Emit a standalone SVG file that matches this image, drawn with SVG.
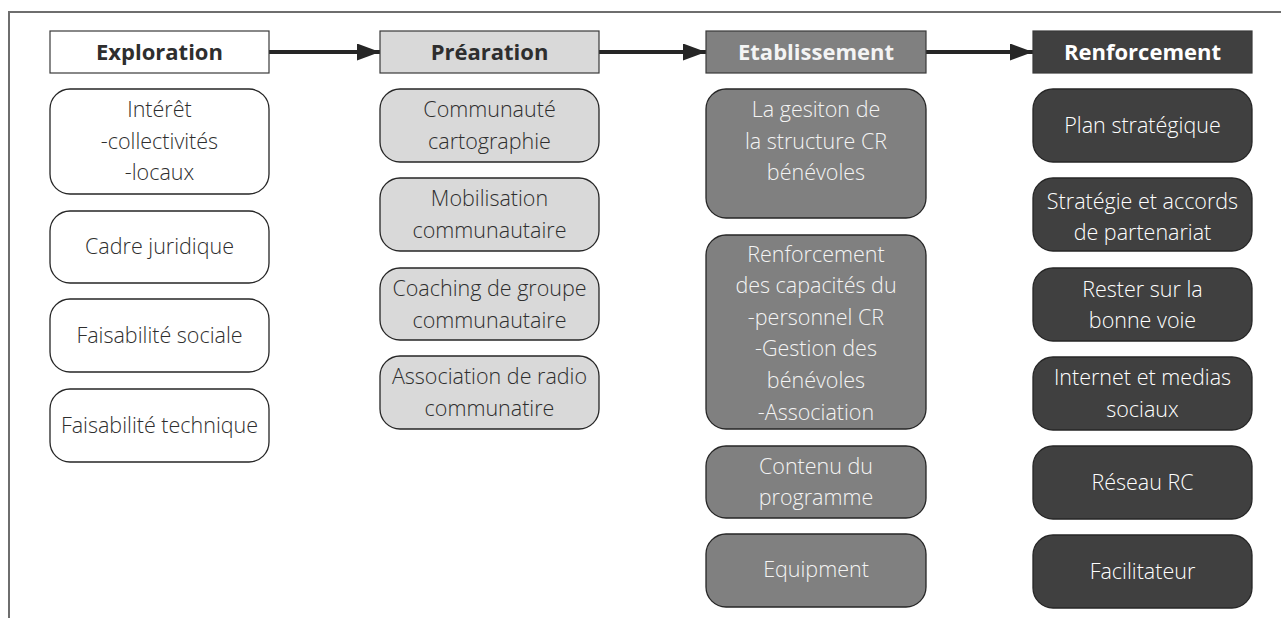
<svg xmlns="http://www.w3.org/2000/svg" width="1281" height="618" viewBox="0 0 1281 618">
<defs>
<marker id="ah" markerWidth="23" markerHeight="17" refX="23" refY="8.5" orient="auto" markerUnits="userSpaceOnUse">
<path d="M0,0 L23,8.5 L0,17 Z" fill="#262626"/>
</marker>
<style>
.hd{stroke:#3a3a3a;stroke-width:1.2}
.nd{stroke:#262626;stroke-width:1.3}
.ht{font-family:"Open Sans","Noto Sans","DejaVu Sans",sans-serif;font-weight:bold;font-size:22px;text-anchor:middle}
.t{font-family:"Open Sans","Noto Sans","DejaVu Sans",sans-serif;font-weight:300;font-size:21.5px;text-anchor:middle}
.c1 rect{fill:#ffffff}
.c2 rect{fill:#d9d9d9}
.c3 rect{fill:#808080}
.c4 rect{fill:#404040}
.c1 text,.c2 text{fill:#2e2e2e}
.c3 text{fill:#f4f4f4}
.c4 text{fill:#ffffff}
.con{stroke:#262626;stroke-width:4;fill:none}
</style>
</defs>
<rect width="1281" height="618" fill="#ffffff"/>
<path d="M9,618 V12 H1281" fill="none" stroke="#6e6e6e" stroke-width="2"/>

<g id="connectors">
<line class="con" x1="269" y1="52" x2="380" y2="52" marker-end="url(#ah)"/>
<line class="con" x1="599" y1="52" x2="706" y2="52" marker-end="url(#ah)"/>
<line class="con" x1="926" y1="52" x2="1033" y2="52" marker-end="url(#ah)"/>
</g>

<g id="h-exploration" class="c1"><rect class="hd" x="50" y="31" width="219" height="42"/><text class="ht" x="159.5" y="60">Exploration</text></g>
<g id="h-prearation" class="c2"><rect class="hd" x="380" y="31" width="219" height="42"/><text class="ht" x="489.5" y="60">Préaration</text></g>
<g id="h-etablissement" class="c3"><rect class="hd" x="706" y="31" width="220" height="42"/><text class="ht" x="816" y="60">Etablissement</text></g>
<g id="h-renforcement" class="c4"><rect class="hd" x="1033" y="31" width="219" height="42"/><text class="ht" x="1142.5" y="60">Renforcement</text></g>

<g id="n-interet" class="c1"><rect class="nd" x="50" y="89" width="219" height="105" rx="20"/><text class="t" x="159.5" y="117">Intérêt</text><text class="t" x="159.5" y="149">-collectivités</text><text class="t" x="159.5" y="180">-locaux</text></g>
<g id="n-cadre" class="c1"><rect class="nd" x="50" y="211" width="219" height="72" rx="20"/><text class="t" x="159.5" y="254">Cadre juridique</text></g>
<g id="n-fsociale" class="c1"><rect class="nd" x="50" y="299" width="219" height="73" rx="20"/><text class="t" x="159.5" y="343">Faisabilité sociale</text></g>
<g id="n-ftechnique" class="c1"><rect class="nd" x="50" y="389" width="219" height="73" rx="20"/><text class="t" x="159.5" y="433">Faisabilité technique</text></g>

<g id="n-communaute" class="c2"><rect class="nd" x="380" y="89" width="219" height="73" rx="20"/><text class="t" x="489.5" y="117">Communauté</text><text class="t" x="489.5" y="149">cartographie</text></g>
<g id="n-mobilisation" class="c2"><rect class="nd" x="380" y="178" width="219" height="73" rx="20"/><text class="t" x="489.5" y="206">Mobilisation</text><text class="t" x="489.5" y="238">communautaire</text></g>
<g id="n-coaching" class="c2"><rect class="nd" x="380" y="268" width="219" height="72" rx="20"/><text class="t" x="489.5" y="296">Coaching de groupe</text><text class="t" x="489.5" y="328">communautaire</text></g>
<g id="n-association" class="c2"><rect class="nd" x="380" y="356" width="219" height="73" rx="20"/><text class="t" x="489.5" y="384">Association de radio</text><text class="t" x="489.5" y="416">communatire</text></g>

<g id="n-gestion" class="c3"><rect class="nd" x="706" y="89" width="220" height="129" rx="20"/><text class="t" x="816" y="117">La gesiton de</text><text class="t" x="816" y="149">la structure CR</text><text class="t" x="816" y="180">bénévoles</text></g>
<g id="n-capacites" class="c3"><rect class="nd" x="706" y="235" width="220" height="194" rx="20"/><text class="t" x="816" y="262">Renforcement</text><text class="t" x="816" y="293">des capacités du</text><text class="t" x="816" y="325">-personnel CR</text><text class="t" x="816" y="356">-Gestion des</text><text class="t" x="816" y="388">bénévoles</text><text class="t" x="816" y="420">-Association</text></g>
<g id="n-contenu" class="c3"><rect class="nd" x="706" y="446" width="220" height="72" rx="20"/><text class="t" x="816" y="474">Contenu du</text><text class="t" x="816" y="505">programme</text></g>
<g id="n-equipment" class="c3"><rect class="nd" x="706" y="534" width="220" height="73" rx="20"/><text class="t" x="816" y="577">Equipment</text></g>

<g id="n-plan" class="c4"><rect class="nd" x="1033" y="89" width="219" height="73" rx="20"/><text class="t" x="1142.5" y="133">Plan stratégique</text></g>
<g id="n-strategie" class="c4"><rect class="nd" x="1033" y="178" width="219" height="73" rx="20"/><text class="t" x="1142.5" y="209">Stratégie et accords</text><text class="t" x="1142.5" y="240">de partenariat</text></g>
<g id="n-rester" class="c4"><rect class="nd" x="1033" y="268" width="219" height="73" rx="20"/><text class="t" x="1142.5" y="297">Rester sur la</text><text class="t" x="1142.5" y="328">bonne voie</text></g>
<g id="n-internet" class="c4"><rect class="nd" x="1033" y="357" width="219" height="73" rx="20"/><text class="t" x="1142.5" y="385">Internet et medias</text><text class="t" x="1142.5" y="417">sociaux</text></g>
<g id="n-reseau" class="c4"><rect class="nd" x="1033" y="446" width="219" height="73" rx="20"/><text class="t" x="1142.5" y="490">Réseau RC</text></g>
<g id="n-facilitateur" class="c4"><rect class="nd" x="1033" y="535" width="219" height="73" rx="20"/><text class="t" x="1142.5" y="579">Facilitateur</text></g>
</svg>
